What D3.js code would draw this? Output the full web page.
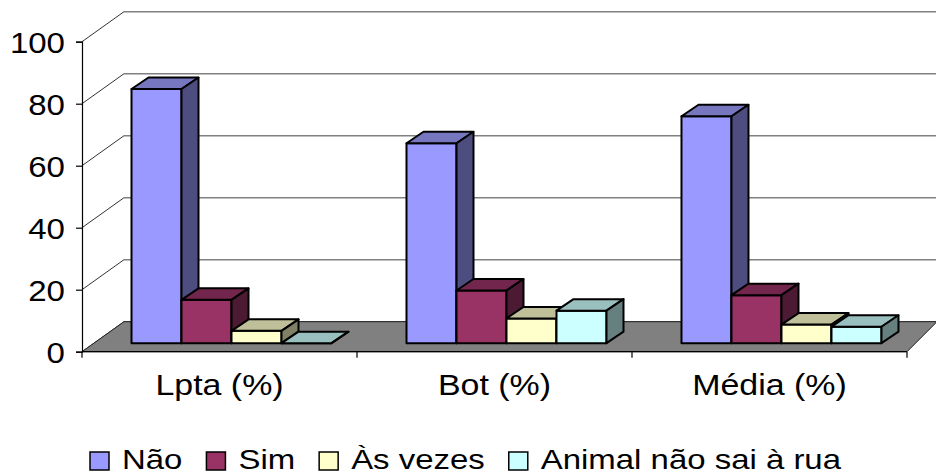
<!DOCTYPE html>
<html>
<head>
<meta charset="utf-8">
<script src="https://cdn.jsdelivr.net/npm/d3@7"></script>
<style>
body{margin:0;background:#fff;}
svg{display:block;font-family:"Liberation Sans",Arial,sans-serif;}
</style>
</head>
<body>
<div id="viz"></div>
<script>
var width = 936, height = 475;

var categories = ["Lpta (%)", "Bot (%)", "Média (%)"];
var seriesNames = ["Não", "Sim", "Às vezes", "Animal não sai à rua"];
var nao = [82, 64.5, 73.2];
var sim = [14, 17, 15.5];
var asVezes = [4, 8, 6];
var animal = [0, 10.5, 5.3];
var yTicks = [0, 20, 40, 60, 80, 100];

var seriesValues = [nao, sim, asVezes, animal];
// front, top, side colours
var colors = [
	["#9999ff", "#7777bf", "#4d4d80"],
	["#993366", "#73264d", "#4d1a33"],
	["#ffffcc", "#bfbf99", "#808066"],
	["#ccffff", "#99bfbf", "#668080"]
];

var canvas = d3.select('#viz')
		.append('svg')
		.attr("height", height)
		.attr("width", width);

var yScale = d3.scaleLinear()
	.domain([0, 100])
	.range([351.7, 41.7]);

var x0 = d3.scaleBand()
	.domain(categories)
	.range([82, 907])
	.paddingInner(0.2727)
	.paddingOuter(0.1364);

var x1 = d3.scaleBand()
	.domain(seriesNames)
	.range([0, x0.bandwidth()]);

// depth of the wall/floor
var backLeft = 124, backRight = 937, backDy = 30;

// back wall gridlines
canvas.append("g")
	.selectAll("line")
	.data(yTicks)
	.enter()
		.append("line")
		.attr("x1", backLeft)
		.attr("x2", backRight)
		.attr("y1", function(d){return yScale(d) - backDy})
		.attr("y2", function(d){return yScale(d) - backDy})
		.attr("stroke", "#808080")
		.attr("stroke-width", 1.5);

// left wall diagonals
canvas.append("g")
	.selectAll("line")
	.data(yTicks)
	.enter()
		.append("line")
		.attr("x1", 82)
		.attr("x2", backLeft)
		.attr("y1", function(d){return yScale(d)})
		.attr("y2", function(d){return yScale(d) - backDy})
		.attr("stroke", "#333")
		.attr("stroke-width", 1);

// floor
var y0 = yScale(0);
canvas.append("polygon")
	.attr("points", [[82, y0], [907, y0], [backRight, y0 - backDy], [backLeft, y0 - backDy]].join(" "))
	.attr("fill", "#808080")
	.attr("stroke", "#222")
	.attr("stroke-width", 1);

// y axis
var yAxis = d3.axisLeft(yScale)
	.tickValues(yTicks)
	.tickSize(6)
	.tickFormat(d3.format("d"));

var yG = canvas.append("g")
	.attr("transform", "translate(82,0)")
	.call(yAxis);
yG.select(".domain").attr("stroke", "#000").attr("stroke-width", 1.2);
yG.selectAll(".tick line").attr("stroke", "#000").attr("stroke-width", 1.2);
yG.selectAll(".tick text")
	.attr("x", 0)
	.attr("dy", "0.36em")
	.attr("font-size", 29.5)
	.attr("font-family", "Liberation Sans, Arial, sans-serif")
	.attr("fill", "#000")
	.attr("transform", "translate(-17,0) scale(1.12,1)");

// x axis
var xAxis = d3.axisBottom(x0)
	.tickSize(0)
	.tickPadding(0);
var xG = canvas.append("g")
	.attr("transform", "translate(0," + y0 + ")")
	.call(xAxis);
xG.select(".domain").attr("stroke", "#000").attr("stroke-width", 1.2).attr("d", "M82,0H907");
xG.selectAll(".tick text").remove();

// category separators
var sepX = [82].concat(categories.map(function(c){return x0(c) + x0.bandwidth() + x0.step() * x0.paddingInner() / 2}));
sepX[sepX.length - 1] = 907;
canvas.append("g")
	.selectAll("line")
	.data(sepX)
	.enter()
		.append("line")
		.attr("x1", function(d){return d})
		.attr("x2", function(d){return d})
		.attr("y1", y0)
		.attr("y2", y0 + 6)
		.attr("stroke", "#000")
		.attr("stroke-width", 1.2);

canvas.append("g")
	.selectAll("text")
	.data(categories)
	.enter()
		.append("text")
		.attr("transform", function(d){return "translate(" + (x0(d) + x0.bandwidth() / 2) + ",395) scale(1.17,1)"})
		.attr("text-anchor", "middle")
		.attr("font-size", 29)
		.text(function(d){return d});

// 3D bars
var shiftX = 12, shiftY = -8.5;   // bar front plane offset
var depX = 17, depY = -11.5;      // bar depth

var bars = [];
categories.forEach(function(c, ci){
	seriesNames.forEach(function(s, si){
		bars.push({cat: c, ser: s, si: si, value: seriesValues[si][ci]});
	});
});

var barG = canvas.append("g")
	.selectAll("g")
	.data(bars)
	.enter()
		.append("g");

function corners(d){
	var xl = x0(d.cat) + x1(d.ser) + shiftX;
	var xr = xl + x1.bandwidth();
	var yb = yScale(0) + shiftY;
	var yt = yScale(d.value) + shiftY;
	return {xl: xl, xr: xr, yb: yb, yt: yt};
}

barG.append("polygon")
	.attr("points", function(d){
		var c = corners(d);
		return [[c.xl, c.yb], [c.xr, c.yb], [c.xr, c.yt], [c.xl, c.yt]].join(" ");
	})
	.attr("fill", function(d){return colors[d.si][0]})
	.attr("stroke", "#000")
	.attr("stroke-width", 2)
	.attr("stroke-linejoin", "round");

barG.append("polygon")
	.attr("points", function(d){
		var c = corners(d);
		return [[c.xl, c.yt], [c.xr, c.yt], [c.xr + depX, c.yt + depY], [c.xl + depX, c.yt + depY]].join(" ");
	})
	.attr("fill", function(d){return colors[d.si][1]})
	.attr("stroke", "#000")
	.attr("stroke-width", 2)
	.attr("stroke-linejoin", "round");

barG.append("polygon")
	.attr("points", function(d){
		var c = corners(d);
		return [[c.xr, c.yb], [c.xr, c.yt], [c.xr + depX, c.yt + depY], [c.xr + depX, c.yb + depY]].join(" ");
	})
	.attr("fill", function(d){return colors[d.si][2]})
	.attr("stroke", "#000")
	.attr("stroke-width", 2)
	.attr("stroke-linejoin", "round");

// legend
var legend = canvas.append("g");
var lx = 90;
seriesNames.forEach(function(s, si){
	legend.append("rect")
		.attr("x", lx)
		.attr("y", 452)
		.attr("width", 19)
		.attr("height", 18)
		.attr("fill", colors[si][0])
		.attr("stroke", "#000")
		.attr("stroke-width", 1.5);
	var t = legend.append("text")
		.attr("transform", "translate(" + (lx + 32) + ",469) scale(1.22,1)")
		.attr("font-size", 27)
		.text(s);
	lx = lx + 32 + t.node().getComputedTextLength() * 1.22 + 24;
});
</script>
</body>
</html>
